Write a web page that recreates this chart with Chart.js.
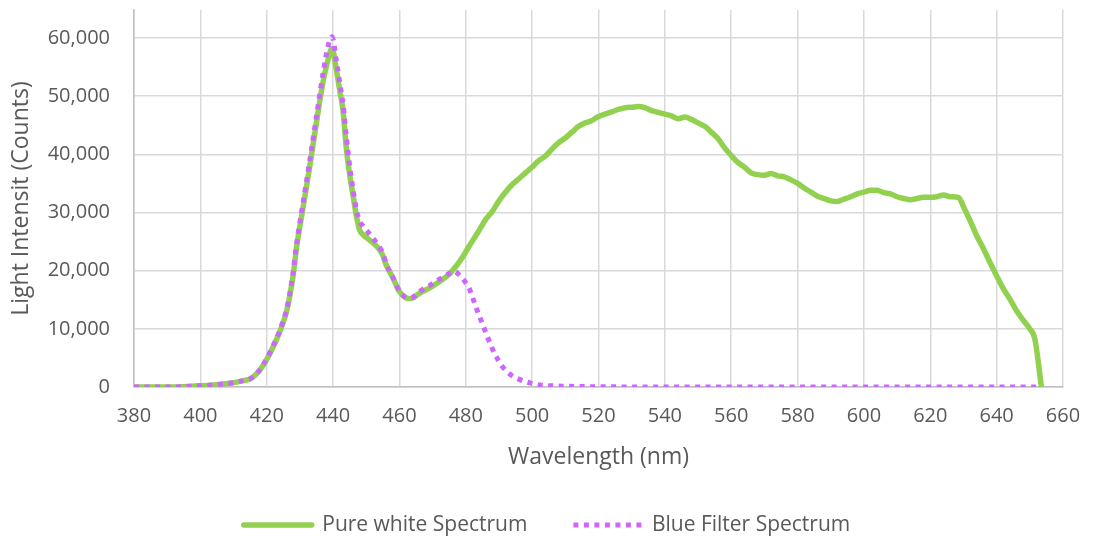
<!DOCTYPE html>
<html>
<head>
<meta charset="utf-8">
<script src="https://cdn.jsdelivr.net/npm/chart.js@4.4.1/dist/chart.umd.min.js"></script>
<style>
  html, body { margin: 0; padding: 0; background: #fff; }
  #wrap { width: 1094px; height: 541px; }
</style>
</head>
<body>
<div id="wrap"><canvas id="spectrumChart"></canvas></div>
<script>
// Valeurs (longueur d'onde en nm, intensité en counts)
const whiteWavelengths = [380, 385, 390, 395, 400, 405, 410, 413, 415, 417, 419, 421, 424, 426, 427, 428, 429, 431, 433, 435, 437, 438.5, 439.7,
  441, 442, 443, 444, 445, 446, 447, 448, 449, 450, 452, 454, 455, 456, 458, 460, 462, 463, 464, 466, 469, 472, 475, 477, 479,
  481, 483, 484.5, 486, 488, 490, 492, 494, 496, 498, 500, 502, 504, 506, 508, 510, 512, 514, 516, 518, 520, 522, 524, 526, 528,
  530, 532, 534, 536, 538, 540, 542, 544, 546, 548, 550, 552, 554, 556, 558, 560, 562, 564, 566, 568, 570, 572, 574, 576, 578,
  580, 582, 584, 586, 588, 590, 592, 594, 596, 598, 600, 602, 604, 606, 608, 610, 612, 614, 616, 618, 620, 622, 624, 626, 628.5,
  630, 632, 634, 636, 638, 640, 642, 644, 646, 648, 650, 651.5, 653.5];
const whiteCounts = [0, 0, 0, 50, 200, 400, 750, 1100, 1400, 2300, 3800, 5800, 9600, 13000, 15800, 19300, 24000, 31000, 38000, 45500, 52500, 56300, 58200,
  54500, 51000, 47500, 41000, 36500, 33000, 29500, 27000, 26200, 25700, 24800, 23600, 22600, 21000, 18800, 16400, 15300, 15200, 15300, 16100, 17000, 18100, 19400, 20700, 22300,
  24200, 26000, 27400, 28800, 30200, 32000, 33500, 34800, 35800, 36800, 37800, 38900, 39700, 40900, 42000, 42800, 43800, 44800, 45400, 45800, 46500, 46900, 47300, 47700, 48000,
  48100, 48200, 48000, 47500, 47200, 46900, 46600, 46100, 46400, 46000, 45400, 44800, 43800, 42700, 41100, 39800, 38600, 37800, 36800, 36500, 36400, 36700, 36300, 36100, 35600,
  35000, 34200, 33500, 32800, 32400, 32000, 31900, 32300, 32700, 33200, 33500, 33800, 33800, 33400, 33200, 32700, 32400, 32200, 32400, 32600, 32600, 32700, 33000, 32700, 32600,
  31000, 28600, 26000, 23800, 21400, 19100, 16900, 15100, 13100, 11500, 10000, 8300, 0];

const blueWavelengths = [380, 385, 390, 395, 400, 405, 410, 413, 415, 417, 419, 421, 424, 426, 427, 428, 429, 431, 433, 435, 437, 438.5, 439.7,
  441, 442, 443, 444, 445, 446, 447, 448, 449, 450, 452, 454, 455, 456, 458, 460, 462, 463, 464, 466, 469, 472, 475, 476.5, 478,
  479.5, 481, 482, 483, 484.3, 485.8, 487.9, 489.4, 490.9, 493.3, 495.8, 499.3, 502.4, 509, 520, 540, 560, 580, 600, 620, 640, 653.5];
const blueCounts = [0, 0, 0, 50, 200, 400, 750, 1100, 1400, 2300, 3900, 6000, 9800, 13300, 16200, 19800, 24500, 31800, 39000, 46500, 54000, 58600, 60200,
  56000, 52300, 48600, 43000, 38000, 34000, 30500, 28500, 27700, 27000, 25600, 24000, 23000, 21200, 18900, 16500, 15400, 15300, 15400, 16400, 17400, 18500, 19500, 19900, 19300,
  18300, 17000, 15500, 13800, 11900, 9700, 6700, 5000, 3600, 2200, 1400, 700, 350, 150, 50, 0, 0, 0, 0, 0, 0, 0];

const seriesLabels = ['Pure white Spectrum', 'Blue Filter Spectrum'];
const xTicks = [380, 400, 420, 440, 460, 480, 500, 520, 540, 560, 580, 600, 620, 640, 660];
const yTicks = [0, 10000, 20000, 30000, 40000, 50000, 60000];

const textColor = '#595959';
const gridColor = '#d9d9d9';
const axisColor = '#bfbfbf';
const fontFamily = "'Open Sans', 'Noto Sans', sans-serif";

function toPoints(xs, ys) {
    return xs.map((x, i) => ({ x: x, y: ys[i] }));
}

// Légende : on reprend le style de trait de chaque série (pointillés compris)
function legendLabels(chart) {
    const items = Chart.defaults.plugins.legend.labels.generateLabels(chart);
    items.forEach(item => {
        const ds = chart.data.datasets[item.datasetIndex];
        item.lineDash = ds.borderDash || [];
        item.lineWidth = ds.borderWidth;
        item.lineCap = ds.borderCapStyle;
        item.strokeStyle = ds.borderColor;
        item.fillStyle = ds.borderColor;
        // espace plus large entre les deux entrées, comme dans Excel
        if (item.datasetIndex === 0) item.text = item.text + '\u2003\u2003';
    });
    return items;
}

const ctx = document.getElementById('spectrumChart').getContext('2d');
window.myChart = new Chart(ctx, {
    type: 'line',
    data: {
        datasets: [{
            label: seriesLabels[0],
            data: toPoints(whiteWavelengths, whiteCounts),
            borderColor: '#92D050',
            backgroundColor: '#92D050',
            borderWidth: 5.5,
            borderCapStyle: 'round',
            borderJoinStyle: 'round',
            pointRadius: 0,
            cubicInterpolationMode: 'monotone',
            order: 2
        }, {
            label: seriesLabels[1],
            data: toPoints(blueWavelengths, blueCounts),
            borderColor: '#CC66FF',
            backgroundColor: '#CC66FF',
            borderWidth: 5,
            borderDash: [5, 5.5],
            borderCapStyle: 'butt',
            pointRadius: 0,
            cubicInterpolationMode: 'monotone',
            order: 1
        }]
    },
    options: {
        responsive: true,
        maintainAspectRatio: false,
        animation: false,
        layout: { padding: { top: 10, right: 0, bottom: -4.5, left: 0 } },
        plugins: {
            tooltip: { enabled: false },
            legend: {
                position: 'bottom',
                labels: {
                    usePointStyle: true,
                    pointStyle: 'line',
                    pointStyleWidth: 68,
                    boxHeight: 10,
                    padding: 4,
                    color: textColor,
                    font: { size: 21, family: fontFamily },
                    sort: (a, b) => a.datasetIndex - b.datasetIndex,
                    generateLabels: legendLabels
                }
            }
        },
        scales: {
            x: {
                type: 'linear',
                min: 380,
                max: 660,
                afterBuildTicks: scale => { scale.ticks = xTicks.map(v => ({ value: v })); },
                afterFit: scale => {
                    scale.height = 123.5;
                    scale.paddingLeft = 0;
                    scale.paddingRight = 31;
                },
                grid: { color: gridColor, lineWidth: 1.5, drawTicks: false },
                border: { color: axisColor, width: 1.5 },
                ticks: { color: textColor, padding: 17, maxRotation: 0, font: { size: 20, family: fontFamily } },
                title: {
                    display: true,
                    text: 'Wavelength (nm)',
                    color: textColor,
                    font: { size: 23, family: fontFamily },
                    padding: { top: 0, bottom: 39 }
                }
            },
            y: {
                min: 0,
                max: 64800,
                afterBuildTicks: scale => { scale.ticks = yTicks.map(v => ({ value: v })); },
                afterFit: scale => {
                    scale.width = 134;
                    scale.paddingTop = 0;
                    scale.paddingBottom = 0;
                },
                grid: { color: gridColor, lineWidth: 1.5, drawTicks: false },
                border: { color: axisColor, width: 1.5 },
                ticks: {
                    color: textColor,
                    padding: 24,
                    font: { size: 20, family: fontFamily },
                    callback: v => v.toLocaleString('en-US')
                },
                title: {
                    display: true,
                    text: 'Light Intensit (Counts)',
                    color: textColor,
                    font: { size: 23, family: fontFamily },
                    padding: { top: 8, bottom: 0 }
                }
            }
        }
    }
});
</script>
</body>
</html>
